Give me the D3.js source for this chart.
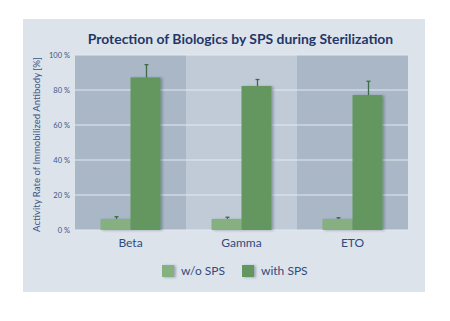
<!DOCTYPE html>
<html>
<head>
<meta charset="utf-8">
<script src="https://cdn.jsdelivr.net/npm/d3@7"></script>
<style>
  html, body { margin: 0; padding: 0; background: #ffffff; }
  svg { display: block; }
</style>
</head>
<body>
<svg id="chart" width="450" height="321"></svg>
<script>
const categories = ["Beta", "Gamma", "ETO"];
const seriesNames = ["w/o SPS", "with SPS"];
const withoutSPS = [6.3, 6.3, 6.3];
const withoutSPSErr = [7.6, 7.3, 7.0];
const withSPS = [87.2, 82.3, 77.1];
const withSPSErr = [94.5, 86.0, 85.0];
const yTicks = [0, 20, 40, 60, 80, 100];
const seriesColors = ["#86b07f", "#64975f"];

const svg = d3.select("#chart");

const defs = svg.append("defs");
const f = defs.append("filter").attr("id", "shadow").attr("x", "-20%").attr("y", "-20%").attr("width", "150%").attr("height", "140%");
f.append("feDropShadow").attr("dx", 2).attr("dy", 0.5).attr("stdDeviation", 1.2).attr("flood-color", "#2a3a55").attr("flood-opacity", 0.35);

// background panel
svg.append("rect").attr("x", 23).attr("y", 19).attr("width", 402).attr("height", 273).attr("fill", "#dde3eb");

const plot = { left: 75, right: 408, top: 55, bottom: 230 };

const x = d3.scaleBand().domain(categories).range([plot.left, plot.right]).paddingInner(0).paddingOuter(0);
const y = d3.scaleLinear().domain([0, 100]).range([plot.bottom, plot.top]);
const xs = d3.scaleBand().domain(seriesNames).range([25.5, 85.5]).padding(0);

// bands
svg.append("g").selectAll("rect").data(categories).join("rect")
  .attr("x", d => x(d)).attr("y", plot.top)
  .attr("width", x.bandwidth()).attr("height", plot.bottom - plot.top)
  .attr("fill", (d, i) => i % 2 === 0 ? "#a9b7c7" : "#c1cbd8");

// grid
svg.append("g").selectAll("line").data(yTicks).join("line")
  .attr("x1", plot.left).attr("x2", plot.right)
  .attr("y1", d => y(d)).attr("y2", d => y(d))
  .attr("stroke", "#e4eaf1").attr("stroke-width", 1.2);

// y axis labels
const yAxis = d3.axisLeft(y).tickValues(yTicks).tickSize(0).tickPadding(4).tickFormat(d => d + " %");
const ya = svg.append("g").attr("transform", `translate(${plot.left - 1},0)`).call(yAxis);
ya.select(".domain").remove();
ya.selectAll("text").attr("font-family", "Lato, sans-serif").attr("font-size", 7.5).attr("fill", "#3b5685");

// y title
svg.append("text")
  .attr("transform", `translate(38,${(plot.top + plot.bottom) / 2 + 2}) rotate(-90)`)
  .attr("text-anchor", "middle").attr("dominant-baseline", "middle")
  .attr("font-family", "Lato, sans-serif").attr("font-size", 9.6).attr("fill", "#3b5685")
  .text("Activity Rate of Immobilized Antibody [%]");

// bars
const data = [withoutSPS, withSPS];
const errs = [withoutSPSErr, withSPSErr];
seriesNames.forEach((s, si) => {
  const g = svg.append("g");
  g.selectAll("rect").data(categories).join("rect")
    .attr("x", d => x(d) + xs(s)).attr("y", (d, i) => y(data[si][i]))
    .attr("width", xs.bandwidth()).attr("height", (d, i) => y(0) - y(data[si][i]))
    .attr("fill", seriesColors[si]).attr("filter", "url(#shadow)");
});
// error bars
seriesNames.forEach((s, si) => {
  const g = svg.append("g");
  categories.forEach((c, i) => {
    const cx = x(c) + xs(s) + xs.bandwidth() / 2 + 1;
    g.append("line").attr("x1", cx).attr("x2", cx)
      .attr("y1", y(data[si][i])).attr("y2", y(errs[si][i]))
      .attr("stroke", "#3d6b4a").attr("stroke-width", 1.3);
    g.append("line").attr("x1", cx - 2).attr("x2", cx + 2)
      .attr("y1", y(errs[si][i])).attr("y2", y(errs[si][i]))
      .attr("stroke", "#3d6b4a").attr("stroke-width", 1.3);
  });
});

// x labels
const xAxis = d3.axisBottom(x).tickSize(0).tickPadding(8);
const xa = svg.append("g").attr("transform", `translate(0,${plot.bottom})`).call(xAxis);
xa.select(".domain").remove();
xa.selectAll("text").attr("font-family", "Lato, sans-serif").attr("font-size", 12).attr("fill", "#2f4c7e");

// title
svg.append("text").attr("x", 240.5).attr("y", 44).attr("text-anchor", "middle")
  .attr("font-family", "Lato, sans-serif").attr("font-weight", "bold").attr("font-size", 13.9)
  .attr("fill", "#1f3768").text("Protection of Biologics by SPS during Sterilization");

// legend
const legendX = [162, 242];
const lg = svg.append("g");
seriesNames.forEach((s, i) => {
  lg.append("rect").attr("x", legendX[i]).attr("y", 265).attr("width", 12).attr("height", 12)
    .attr("fill", seriesColors[i]).attr("filter", "url(#shadow)");
  lg.append("text").attr("x", legendX[i] + 19).attr("y", 272).attr("dominant-baseline", "middle")
    .attr("font-family", "Lato, sans-serif").attr("font-size", 12).attr("fill", "#2f4c7e").text(s);
});
</script>
</body>
</html>
